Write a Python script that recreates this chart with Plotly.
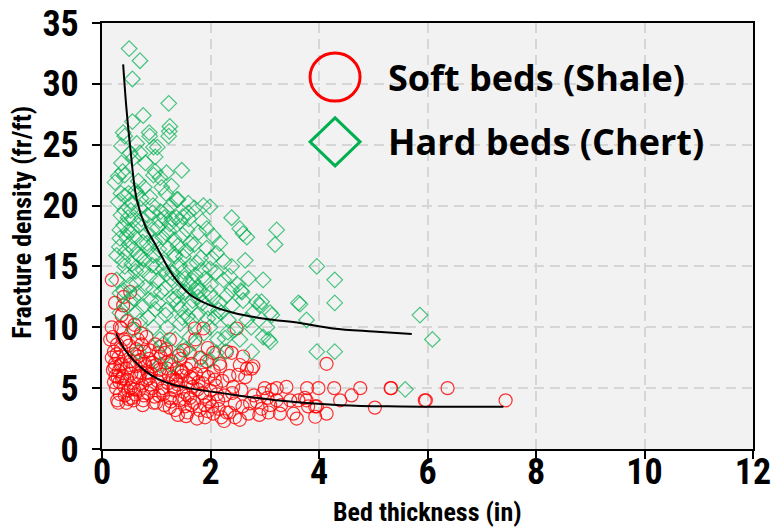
import plotly.graph_objects as go

# Soft beds (shale): bed thickness (in) and fracture density (fr/ft)
shale_thickness = [
    0.18, 0.24, 0.39, 0.52, 0.36, 0.18, 0.36, 0.58, 0.82, 1.71, 1.87, 2.48, 4.14, 2.39, 2.67, 2.79,
    1.50, 1.62, 1.81, 2.05, 2.17, 1.25, 1.07, 0.88, 5.95, 5.03, 5.33, 4.76, 4.60, 4.39, 4.28, 3.99,
    3.78, 4.14, 3.93, 3.93, 3.59, 3.53, 3.40, 3.22, 3.13, 2.97, 3.47, 3.62, 3.77, 3.07, 3.28, 2.70,
    2.54, 2.76, 2.54, 2.51, 2.64, 3.22, 3.10, 2.94, 2.85, 2.42, 2.57, 2.45, 2.59, 2.73, 7.44, 6.37,
    5.97, 5.32, 3.80, 3.74, 3.96,
    0.20, 0.22, 0.24, 0.25, 0.26, 0.28, 0.30, 0.31, 0.32, 0.33, 0.35, 0.36, 0.38, 0.40, 0.41, 0.43,
    0.45, 0.46, 0.48, 0.50, 0.52, 0.54, 0.55, 0.57, 0.60, 0.62, 0.64, 0.66, 0.68, 0.70, 0.72, 0.74,
    0.76, 0.78, 0.80, 0.82, 0.85, 0.87, 0.90, 0.92, 0.95, 0.98, 1.00, 1.02, 1.05, 1.08, 1.10, 1.12,
    1.15, 1.18, 1.20, 1.22, 1.25, 1.28, 1.30, 1.33, 1.35, 1.38, 1.40, 1.43, 1.45, 1.48, 1.50, 1.53,
    1.56, 1.60, 1.62, 1.65, 1.68, 1.70, 1.73, 1.76, 1.80, 1.83, 1.86, 1.90, 1.93, 1.96, 2.00, 2.03,
    2.06, 2.10, 2.14, 2.18, 2.22, 2.26, 2.30, 2.35, 2.40, 2.20, 2.05, 1.90, 1.58, 1.25, 1.00, 0.75,
    0.58, 0.28, 0.22, 0.33, 0.46, 0.60, 0.72, 0.40, 0.15, 0.18, 0.20, 0.30, 0.45, 1.72, 1.95, 2.30,
    2.60, 2.25, 2.45, 2.90, 3.00, 3.30, 2.80, 3.05,
    0.27, 0.34, 0.44, 0.53, 0.63, 0.69, 0.79, 0.89, 0.97, 1.06, 1.16, 1.27, 1.37, 1.47, 1.58, 1.67,
    1.78, 1.88, 1.98, 2.12, 0.37, 0.49, 0.61, 0.73, 0.86, 0.94, 1.04, 1.13, 1.23, 1.32, 1.42, 1.52,
    0.23, 0.29, 0.42, 0.51, 0.59, 0.67, 0.77, 0.84, 0.93, 1.11, 1.19, 1.36, 1.46, 1.63, 1.85, 2.08,
    1.55, 1.75, 1.95, 2.15, 2.35, 1.40, 1.65, 1.90,
]
shale_density = [
    13.9, 12.0, 11.8, 12.9, 11.0, 10.0, 9.9, 9.9, 9.2, 9.9, 9.9, 9.9, 7.0, 7.9, 6.6, 6.8,
    8.1, 7.9, 7.5, 7.9, 7.0, 9.0, 8.4, 8.1, 4.0, 3.4, 5.0, 5.0, 4.4, 4.0, 5.0, 5.0,
    5.0, 2.9, 2.65, 3.5, 2.5, 2.9, 5.1, 5.0, 4.85, 4.6, 4.0, 4.0, 4.0, 3.0, 2.9, 2.9,
    2.4, 6.6, 6.9, 6.1, 5.9, 4.0, 3.6, 3.3, 3.9, 5.1, 4.85, 3.75, 3.5, 3.75, 4.0, 5.0,
    4.0, 5.0, 3.5, 4.2, 3.5,
    9.2, 8.0, 7.0, 6.0, 5.0, 8.6, 7.5, 6.4, 5.5, 4.5, 8.2, 7.0, 6.0, 5.2, 9.0, 7.6,
    6.6, 5.7, 4.8, 8.5, 7.2, 6.2, 4.2, 5.4, 7.8, 6.8, 5.9, 9.0, 4.8, 7.3, 6.3, 5.2,
    4.0, 8.0, 6.8, 5.7, 4.6, 7.4, 6.2, 5.0, 3.8, 8.6, 6.9, 5.6, 4.4, 7.6, 6.1, 5.0,
    3.6, 8.2, 6.6, 5.4, 4.2, 7.2, 5.9, 4.8, 3.2, 6.6, 5.3, 4.0, 7.4, 6.0, 4.7, 3.5,
    6.6, 5.4, 4.2, 7.0, 5.8, 3.8, 6.2, 4.9, 3.2, 6.8, 5.4, 4.3, 7.2, 5.9, 4.8, 3.5,
    6.4, 5.2, 4.0, 6.8, 5.6, 4.4, 3.0, 6.0, 4.6, 2.6, 2.9, 3.6, 3.0, 3.4, 3.8, 3.6,
    4.0, 4.0, 5.5, 10.0, 10.5, 10.2, 9.5, 12.5, 9.0, 7.5, 6.5, 3.8, 3.8, 9.0, 8.3, 8.0,
    7.6, 2.3, 2.6, 2.8, 5.0, 3.6, 4.4, 4.2,
    7.8, 6.9, 8.8, 5.0, 8.2, 6.0, 7.0, 5.3, 4.3, 6.5, 7.9, 3.9, 5.6, 6.4, 4.4, 5.1,
    5.5, 6.1, 3.9, 4.5, 5.8, 4.1, 4.5, 8.6, 5.8, 6.8, 7.9, 4.5, 6.1, 5.1, 7.7, 4.1,
    6.7, 5.9, 4.4, 6.9, 4.9, 7.6, 4.4, 6.3, 7.1, 4.8, 7.1, 5.7, 6.3, 5.9, 4.6, 5.7,
    2.7, 2.5, 3.1, 3.3, 3.0, 2.8, 3.6, 2.6,
]

# Hard beds (chert): bed thickness (in) and fracture density (fr/ft)
chert_thickness = [
    0.50, 0.70, 0.56, 1.23, 0.76, 0.56, 1.25, 1.24, 1.23, 0.39, 0.87, 0.88, 0.42, 0.64, 0.36, 0.95,
    0.52, 0.70, 0.98, 0.36, 0.58, 1.47, 1.19, 0.95, 0.30, 0.42, 1.07, 0.67, 1.28, 0.24,
    0.49, 0.88, 1.38, 1.59, 1.87, 1.99, 0.42, 0.70, 1.19, 1.59, 2.39, 0.58, 1.07, 1.44, 2.54, 2.60,
    2.67, 3.22, 3.19, 1.93, 0.33, 0.82, 1.19, 2.17, 0.27, 0.58, 0.95, 1.50, 1.75, 2.11, 2.64, 2.39,
    1.99, 3.96, 4.29, 2.97, 0.42, 0.76, 1.19, 0.27, 0.64, 1.44, 2.24, 1.75, 2.58, 2.39, 0.33, 0.95,
    1.38, 1.99, 2.85, 2.91, 3.10, 3.62, 4.29, 3.77, 0.52, 0.33, 0.76, 1.19, 1.62, 2.17, 2.33, 2.67,
    3.04, 0.95, 1.44, 1.99, 2.54, 2.97, 3.07, 2.76, 3.96, 4.29, 1.07, 1.62, 2.11, 0.67, 1.07, 1.28,
    1.44, 1.99, 5.86, 6.09, 5.59, 3.65, 2.79, 2.94, 3.13, 2.27, 3.10, 2.56,
    0.30, 0.35, 0.40, 0.45, 0.50, 0.32, 0.38, 0.46, 0.55, 0.60, 0.48, 0.55, 0.62, 0.35, 0.40, 0.52,
    0.58, 0.45, 0.62, 0.66, 0.68, 0.72, 0.75, 0.78, 0.80, 0.84, 0.86, 0.88, 0.90, 0.92, 0.94, 0.97,
    1.00, 1.02, 1.03, 1.05, 1.08, 1.10, 1.12, 1.14, 1.16, 1.17, 1.20, 1.22, 1.25, 1.27, 1.30, 1.32,
    1.33, 1.35, 1.37, 1.40, 1.42, 1.45, 1.48, 1.50, 1.52, 1.55, 1.57, 1.60, 1.63, 1.65, 1.67, 1.70,
    1.72, 1.75, 1.78, 1.80, 1.82, 1.85, 1.88, 1.90, 1.93, 1.96, 2.00, 2.02, 2.05, 2.08, 2.10, 2.13,
    2.20, 2.25, 2.30, 2.35, 2.40, 2.45, 2.50, 2.60, 2.70, 2.75, 0.70, 0.85, 1.12, 1.35, 1.55, 1.70,
    1.82, 2.28, 0.58, 0.64, 0.98, 0.80, 1.02, 0.65, 0.42, 0.55, 0.70, 0.92, 1.15, 1.28, 1.40, 1.60,
    1.85, 2.05, 1.48, 1.70,
    0.33, 0.43, 0.53, 0.63, 0.73, 0.83, 0.93, 1.03, 1.13, 1.23, 1.33, 1.43, 1.53, 1.63, 1.73, 1.83,
    0.38, 0.48, 0.68, 0.78, 0.98, 1.09, 1.18, 1.29, 1.39, 1.49, 1.58, 1.68, 1.77, 1.95, 2.15, 2.32,
]
chert_density = [
    32.9, 31.9, 30.4, 28.4, 27.4, 26.9, 26.5, 26.1, 25.7, 26.0, 26.0, 25.7, 25.7, 25.1, 24.9, 24.8,
    24.3, 24.3, 24.0, 23.5, 23.9, 22.9, 22.7, 22.5, 22.4, 22.5, 22.3, 22.0, 21.6, 21.9,
    21.0, 20.7, 20.5, 20.2, 20.0, 19.9, 19.6, 19.8, 19.6, 19.4, 19.0, 18.8, 18.8, 18.7, 18.1, 17.7,
    17.4, 18.0, 16.8, 18.1, 17.3, 17.7, 17.7, 16.9, 15.9, 16.4, 15.9, 15.8, 15.3, 16.1, 15.5, 15.0,
    14.8, 15.0, 13.9, 13.9, 15.0, 14.7, 14.4, 13.9, 13.6, 13.9, 13.9, 13.3, 12.9, 13.1, 12.8, 13.1,
    12.5, 12.8, 12.1, 11.8, 11.2, 12.0, 12.0, 10.6, 12.0, 11.2, 11.7, 11.4, 11.7, 12.0, 10.6, 10.6,
    10.0, 10.0, 10.3, 10.0, 9.0, 9.2, 9.0, 8.0, 8.0, 8.0, 9.0, 9.2, 7.9, 8.0, 6.9, 6.9,
    7.9, 7.3, 11.0, 9.0, 4.9, 11.9, 11.2, 12.1, 11.0, 9.1, 8.8, 13.0,
    20.3, 19.2, 18.4, 17.5, 16.8, 16.6, 15.5, 14.3, 15.2, 17.4, 19.0, 20.2, 21.2, 21.0, 13.0, 13.5,
    12.4, 11.7, 14.6, 16.0, 18.4, 20.6, 17.0, 15.6, 13.3, 19.2, 16.5, 14.2, 12.2, 18.0, 20.0, 17.0,
    15.0, 13.8, 12.0, 16.4, 19.5, 21.5, 17.4, 15.3, 13.2, 11.0, 10.0, 16.5, 18.5, 20.0, 14.5, 12.3,
    17.2, 15.8, 19.0, 16.7, 13.0, 11.5, 17.6, 14.6, 12.9, 16.3, 18.0, 13.6, 15.0, 10.5, 12.2, 16.8,
    14.3, 11.0, 17.8, 13.0, 15.7, 12.0, 9.5, 14.0, 16.5, 11.6, 13.5, 15.7, 12.4, 10.8, 14.5, 9.0,
    11.2, 15.4, 12.6, 14.2, 11.8, 9.8, 13.5, 12.2, 14.0, 10.0, 10.5, 10.8, 8.6, 9.0, 8.2, 8.7,
    7.4, 8.0, 9.8, 11.2, 22.8, 23.5, 24.8, 21.0, 20.8, 18.0, 15.8, 15.1, 19.0, 14.0, 20.5, 18.9,
    18.7, 17.5, 10.8, 19.8,
    18.0, 16.2, 19.6, 14.9, 18.9, 16.9, 19.4, 18.2, 14.8, 17.9, 16.0, 15.1, 14.0, 16.9, 13.1, 14.7,
    22.8, 17.9, 12.8, 21.5, 11.5, 12.9, 21.0, 18.9, 11.9, 19.1, 10.9, 13.8, 12.5, 10.7, 11.4, 9.6,
]

# Fitted trend curves
chert_fit_x = [0.39, 0.45, 0.52, 0.64, 0.80, 1.01, 1.30, 1.62, 2.00, 2.42, 3.00, 3.65, 4.26, 5.00, 5.71]
chert_fit_y = [31.6, 28.0, 24.8, 20.5, 18.3, 16.6, 14.3, 12.7, 11.8, 11.2, 10.7, 10.35, 9.9, 9.65, 9.45]
shale_fit_x = [0.26, 0.40, 0.58, 0.80, 1.01, 1.30, 1.62, 2.24, 3.16, 4.40, 5.50, 7.40]
shale_fit_y = [9.5, 8.3, 7.3, 6.4, 5.8, 5.3, 4.98, 4.57, 4.03, 3.6, 3.5, 3.48]

RED = "#ff0000"
GREEN = "#00b050"
AXIS_FONT = "Roboto Condensed"
LEGEND_FONT = "Open Sans"

fig = go.Figure()
fig.add_trace(go.Scatter(
    x=shale_thickness, y=shale_density, mode="markers", name="Soft beds (Shale)",
    marker=dict(symbol="circle-open", size=13, color=RED, line=dict(width=1.2), opacity=0.8),
    showlegend=False,
))
fig.add_trace(go.Scatter(
    x=chert_thickness, y=chert_density, mode="markers", name="Hard beds (Chert)",
    marker=dict(symbol="diamond-open", size=12, color=GREEN, line=dict(width=1.2), opacity=0.7),
    showlegend=False,
))
fig.add_trace(go.Scatter(
    x=chert_fit_x, y=chert_fit_y, mode="lines", line=dict(color="black", width=2, shape="spline"),
    showlegend=False, hoverinfo="skip",
))
fig.add_trace(go.Scatter(
    x=shale_fit_x, y=shale_fit_y, mode="lines", line=dict(color="black", width=2, shape="spline"),
    showlegend=False, hoverinfo="skip",
))

# Legend drawn with large symbols inside the plot area
lx, ly1, ly2 = 0.358, 0.873, 0.721
rx, ry = 25 / 651, 24 / 426
fig.add_shape(type="circle", xref="paper", yref="paper",
              x0=lx - rx, x1=lx + rx, y0=ly1 - ry, y1=ly1 + ry,
              line=dict(color=RED, width=3))
fig.add_shape(type="path", xref="paper", yref="paper",
              path=f"M {lx - rx},{ly2} L {lx},{ly2 + ry} L {lx + rx},{ly2} L {lx},{ly2 - ry} Z",
              line=dict(color=GREEN, width=3))
for yy, label in [(ly1, "Soft beds (Shale)"), (ly2, "Hard beds (Chert)")]:
    fig.add_annotation(x=0.436, y=yy, xref="paper", yref="paper", xanchor="left", yanchor="middle",
                       showarrow=False, text=f"<b>{label}</b>",
                       font=dict(family=LEGEND_FONT, size=36, color="black"))

# Axis titles
fig.add_annotation(x=0.5, y=-0.148, xref="paper", yref="paper", xanchor="center", yanchor="middle",
                   showarrow=False, text="<b>Bed thickness (in)</b>",
                   font=dict(family=AXIS_FONT, size=26, color="black"))
fig.add_annotation(x=-0.123, y=0.533, xref="paper", yref="paper", xanchor="center", yanchor="middle",
                   showarrow=False, textangle=-90, text="<b>Fracture density (fr/ft)</b>",
                   font=dict(family=AXIS_FONT, size=26, color="black"))

axis_common = dict(
    showline=True, linecolor="black", linewidth=2, mirror=True,
    ticks="outside", ticklen=8, tickwidth=2, tickcolor="black",
    showgrid=True, gridcolor="#d6d6d6", gridwidth=2, griddash="10px,6px",
    zeroline=False, automargin=False, ticklabeloverflow="allow",
    tickfont=dict(family=AXIS_FONT, size=36, color="black", weight="bold"),
)
fig.update_xaxes(range=[0, 12], dtick=2, tick0=0, ticklabelstandoff=-18, **axis_common)
fig.update_yaxes(range=[0, 35], dtick=5, tick0=0, ticklabelstandoff=6, **axis_common)
fig.update_layout(
    width=771, height=529,
    margin=dict(l=102, r=18, t=23, b=80, autoexpand=False),
    plot_bgcolor="#f2f2f2", paper_bgcolor="white",
)
fig.write_html("out.html")
